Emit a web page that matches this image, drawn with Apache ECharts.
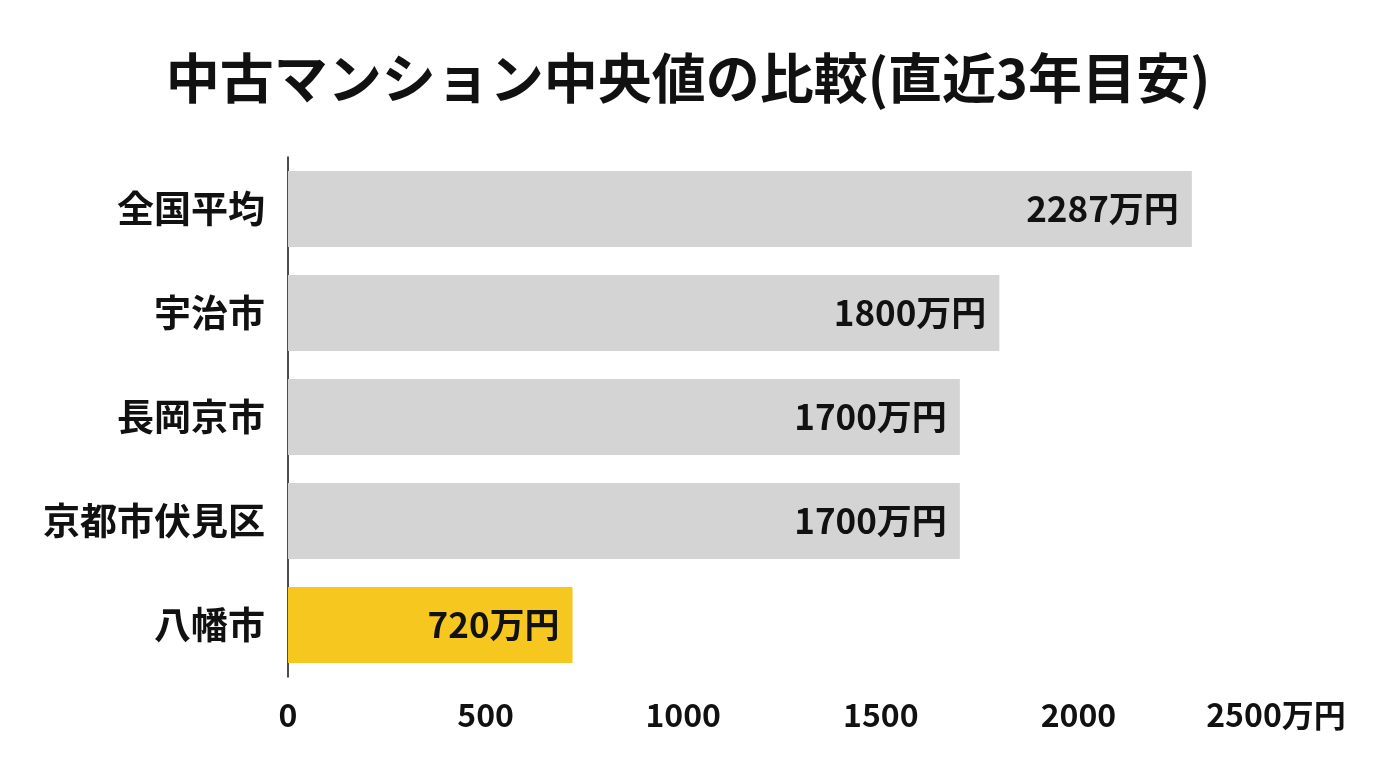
<!DOCTYPE html>
<html>
<head>
<meta charset="utf-8">
<script src="https://cdn.jsdelivr.net/npm/echarts@6/dist/echarts.min.js"></script>
<style>
html,body{margin:0;padding:0;background:#fff;}
#c{width:1376px;height:768px;}
</style>
</head>
<body>
<div id="c"></div>
<script>
const titleText = '中古マンション中央値の比較(直近3年目安)';
const categories = ['全国平均', '宇治市', '長岡京市', '京都市伏見区', '八幡市'];
const values = [2287, 1800, 1700, 1700, 720];
const highlight = '八幡市';
const axisMax = 2500;
const axisInterval = 500;

const FONT = '"Noto Sans CJK JP", "Noto Sans", sans-serif';
const chart = echarts.init(document.getElementById('c'));
chart.setOption({
  backgroundColor: '#ffffff',
  animation: false,
  title: {
    text: titleText,
    left: 'center',
    top: 46,
    textStyle: { fontFamily: FONT, fontSize: 54, fontWeight: 'bold', color: '#111111' }
  },
  grid: { left: 288, right: 100, top: 157, height: 520, containLabel: false },
  xAxis: {
    type: 'value',
    min: 0,
    max: axisMax,
    interval: axisInterval,
    axisLine: { show: false },
    axisTick: { show: false },
    splitLine: { show: false },
    axisLabel: {
      margin: 22,
      fontFamily: FONT, fontSize: 32, fontWeight: 'bold', color: '#111111',
      formatter: v => v === axisMax ? v + '万円' : String(v)
    }
  },
  yAxis: {
    type: 'category',
    inverse: true,
    data: categories,
    axisLine: { show: true, lineStyle: { color: '#111111', width: 1.5 } },
    axisTick: { show: false },
    axisLabel: { margin: 23, fontFamily: FONT, fontSize: 37, fontWeight: 'bold', color: '#111111' }
  },
  series: [{
    type: 'bar',
    barCategoryGap: '27%',
    data: values.map((v, i) => ({
      value: v,
      itemStyle: { color: categories[i] === highlight ? '#f5c71f' : '#d4d4d4' }
    })),
    label: {
      show: true,
      position: 'insideRight',
      distance: 13,
      fontFamily: FONT, fontSize: 35, fontWeight: 'bold', color: '#111111',
      formatter: p => p.value + '万円'
    }
  }]
});
</script>
</body>
</html>
